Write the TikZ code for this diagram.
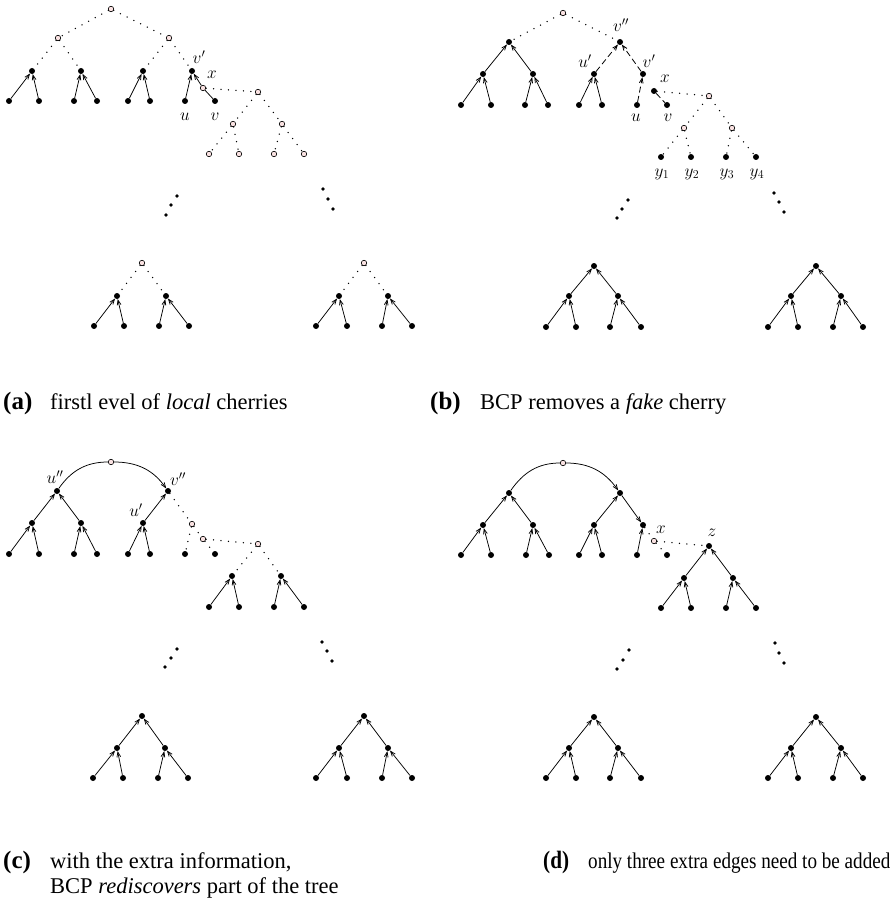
\documentclass[tikz,border=0pt]{standalone}
\usepackage{fontspec}
\usepackage{graphicx}
\setmainfont{Liberation Serif}
\usetikzlibrary{arrows.meta}
\definecolor{opencol}{RGB}{250,226,226}

% a parent with two leaves, each leaf pointing up to the parent
\newcommand\mycherry[6]{%
  \node[fdot] (#1) at (#2,#3) {};
  \node[fdot] (#1l) at (#4,#6) {};
  \node[fdot] (#1r) at (#5,#6) {};
  \draw[arr] (#1l) -- (#1);
  \draw[arr] (#1r) -- (#1);}
% three dots of a vertical ellipsis
\newcommand\mydots[7]{%
  \node[edot] (#1a) at (#2,#3) {};
  \node[edot] (#1b) at (#4,#5) {};
  \node[edot] (#1c) at (#6,#7) {};}

\begin{document}
\begin{tikzpicture}[x=1pt,y=-1pt,
  fdot/.style={circle,fill=black,inner sep=0pt,minimum size=6pt},
  odot/.style={circle,draw=black,fill=opencol,line width=0.6pt,inner sep=0pt,minimum size=5.5pt},
  edot/.style={circle,fill=black,inner sep=0pt,minimum size=3.6pt},
  arr/.style={line width=0.75pt,-{Straight Barb[length=5pt,width=3.8pt]}},
  lne/.style={line width=0.75pt},
  dotl/.style={line width=1.5pt,line cap=round,dash pattern=on 0pt off 7.5pt},
  dsh/.style={line width=0.8pt,dash pattern=on 6pt off 3.5pt},
  lbl/.style={inner sep=0pt,font=\fontsize{17.5}{17.5}\selectfont},
  captext/.style={anchor=base west,inner sep=0pt,font=\fontsize{22.5}{27}\selectfont},
  capmark/.style={anchor=base west,inner sep=0pt,font=\fontsize{25}{27}\selectfont\bfseries},
]
\useasboundingbox (0,0) rectangle (890,901);

% ---------------- (a) ----------------
\node[odot] (ar) at (111,9) {};
\node[odot] (a1) at (58,38) {};
\node[odot] (a2) at (169,38) {};
\mycherry{ac1}{32}{71}{9}{39}{101}
\mycherry{ac2}{81}{71}{74}{97}{101}
\mycherry{ac3}{143}{71}{128}{150}{101}
\node[fdot] (avp) at (192,71) {};
\node[fdot] (au) at (185,101) {};
\node[fdot] (av) at (215,101) {};
\node[odot] (ax) at (203,88) {};
\draw[arr] (au) -- (avp);
\draw[lne] (av) -- (ax);
\draw[arr] (ax) -- (avp);
\draw[dotl] (ar) -- (a1); \draw[dotl] (ar) -- (a2);
\draw[dotl] (a1) -- (ac1); \draw[dotl] (a1) -- (ac2);
\draw[dotl] (a2) -- (ac3); \draw[dotl] (a2) -- (avp);
\node[odot] (aw) at (258,92) {};
\node[odot] (aw1) at (233,124) {};
\node[odot] (aw2) at (282,124) {};
\node[odot] (ay1) at (209,154) {};
\node[odot] (ay2) at (239,154) {};
\node[odot] (ay3) at (274,154) {};
\node[odot] (ay4) at (304,154) {};
\draw[dotl] (ax) -- (aw);
\draw[dotl] (aw) -- (aw1); \draw[dotl] (aw) -- (aw2);
\draw[dotl] (aw1) -- (ay1); \draw[dotl] (aw1) -- (ay2);
\draw[dotl] (aw2) -- (ay3); \draw[dotl] (aw2) -- (ay4);
\node[lbl] (lavp) at (199,57) {$v'$};
\node[lbl] (lax) at (212,75) {$x$};
\node[lbl] (lau) at (185,117) {$u$};
\node[lbl] (lav) at (215,117) {$v$};
\mydots{ae1}{166}{215}{171}{205}{177}{196}
\mydots{ae2}{323}{189}{328}{199}{333}{209}
% lower trees
\node[odot] (ab1) at (142,263) {};
\mycherry{ab1c1}{117}{296}{94}{124}{326}
\mycherry{ab1c2}{166}{296}{159}{189}{326}
\draw[dotl] (ab1) -- (ab1c1); \draw[dotl] (ab1) -- (ab1c2);
\node[odot] (ab2) at (364,263) {};
\mycherry{ab2c1}{339}{296}{316}{347}{326}
\mycherry{ab2c2}{388}{296}{382}{412}{326}
\draw[dotl] (ab2) -- (ab2c1); \draw[dotl] (ab2) -- (ab2c2);
\node[capmark] (capa) at (3,409) {(a)};
\node[captext] (capat) at (50,409) {firstl evel of \textit{local} cherries};

% ---------------- (b) ----------------
\node[odot] (br) at (563,13) {};
\node[fdot] (bL) at (509,42) {};
\node[fdot] (bvpp) at (620,42) {};
\draw[dotl] (br) -- (bL); \draw[dotl] (br) -- (bvpp);
\mycherry{bc1}{483}{74}{461}{491}{105}
\mycherry{bc2}{533}{74}{525}{548}{105}
\draw[arr] (bc1) -- (bL); \draw[arr] (bc2) -- (bL);
\mycherry{bup}{594}{74}{579}{602}{105}
\node[fdot] (bvp) at (643,74) {};
\node[fdot] (bu) at (637,105) {};
\node[fdot] (bv) at (667,105) {};
\node[fdot] (bx) at (654,91) {};
\draw[dsh,-{Straight Barb[length=5pt,width=3.8pt]}] (bup) -- (bvpp);
\draw[dsh,-{Straight Barb[length=5pt,width=3.8pt]}] (bvp) -- (bvpp);
\draw[dsh,-{Straight Barb[length=5pt,width=3.8pt]}] (bu) -- (bvp);
\draw[dsh] (bx) -- (bv);
\node[odot] (bw) at (709,96) {};
\node[odot] (bw1) at (684,128) {};
\node[odot] (bw2) at (732,128) {};
\node[fdot] (by1) at (661,157) {};
\node[fdot] (by2) at (691,157) {};
\node[fdot] (by3) at (726,157) {};
\node[fdot] (by4) at (756,157) {};
\draw[dotl] (bx) -- (bw);
\draw[dotl] (bw) -- (bw1); \draw[dotl] (bw) -- (bw2);
\draw[dotl] (bw1) -- (by1); \draw[dotl] (bw1) -- (by2);
\draw[dotl] (bw2) -- (by3); \draw[dotl] (bw2) -- (by4);
\node[lbl] (lbvpp) at (621,25) {$v''$};
\node[lbl] (lbup) at (585,61) {$u'$};
\node[lbl] (lbvp) at (649,61) {$v'$};
\node[lbl] (lbx) at (665,79) {$x$};
\node[lbl] (lbu) at (636,118) {$u$};
\node[lbl] (lbv) at (668,118) {$v$};
\node[lbl] (lby1) at (662,174) {$y_1$};
\node[lbl] (lby2) at (692,174) {$y_2$};
\node[lbl] (lby3) at (727,174) {$y_3$};
\node[lbl] (lby4) at (757,174) {$y_4$};
\mydots{be1}{617}{218}{622}{209}{628}{200}
\mydots{be2}{774}{193}{779}{202}{784}{212}
% lower trees
\node[fdot] (bb1) at (594,266) {};
\mycherry{bb1c1}{569}{296}{546}{576}{327}
\mycherry{bb1c2}{618}{296}{610}{641}{327}
\draw[arr] (bb1c1) -- (bb1); \draw[arr] (bb1c2) -- (bb1);
\node[fdot] (bb2) at (816,266) {};
\mycherry{bb2c1}{791}{296}{768}{798}{327}
\mycherry{bb2c2}{841}{296}{833}{863}{327}
\draw[arr] (bb2c1) -- (bb2); \draw[arr] (bb2c2) -- (bb2);
\node[capmark] (capb) at (430,409) {(b)};
\node[captext] (capbt) at (480,409) {BCP removes a \textit{fake} cherry};

% ---------------- (c) ----------------
\node[odot] (cr) at (111,462) {};
\node[fdot] (cupp) at (57,491) {};
\node[fdot] (cvpp) at (168,491) {};
\draw[lne] (cupp) to[out=55,in=180] (cr);
\draw[arr] (cr) to[out=0,in=125] (cvpp);
\mycherry{cc1}{32}{523}{9}{39}{554}
\mycherry{cc2}{81}{523}{74}{97}{554}
\draw[arr] (cc1) -- (cupp); \draw[arr] (cc2) -- (cupp);
\mycherry{cup}{143}{523}{128}{150}{554}
\draw[arr] (cup) -- (cvpp);
\node[odot] (co1) at (192,524) {};
\node[odot] (co2) at (203,539) {};
\node[odot] (co3) at (258,544) {};
\node[fdot] (cl1) at (185,554) {};
\node[fdot] (cl2) at (215,554) {};
\draw[dotl] (cvpp) -- (co1);
\draw[dotl] (co1) -- (cl1); \draw[dotl] (co1) -- (co2);
\draw[dotl] (co2) -- (cl2); \draw[dotl] (co2) -- (co3);
\mycherry{cd1}{232}{576}{209}{239}{607}
\mycherry{cd2}{281}{576}{274}{304}{607}
\draw[dotl] (co3) -- (cd1); \draw[dotl] (co3) -- (cd2);
\node[lbl] (lcupp) at (55,477) {$u''$};
\node[lbl] (lcvpp) at (178,479) {$v''$};
\node[lbl] (lcup) at (136,510) {$u'$};
\mydots{ce1}{165}{667}{171}{658}{177}{649}
\mydots{ce2}{322}{642}{327}{651}{332}{661}
% lower trees
\node[fdot] (cb1) at (142,716) {};
\mycherry{cb1c1}{117}{748}{93}{123}{778}
\mycherry{cb1c2}{165}{748}{158}{188}{778}
\draw[arr] (cb1c1) -- (cb1); \draw[arr] (cb1c2) -- (cb1);
\node[fdot] (cb2) at (364,716) {};
\mycherry{cb2c1}{339}{748}{316}{347}{778}
\mycherry{cb2c2}{388}{748}{382}{412}{778}
\draw[arr] (cb2c1) -- (cb2); \draw[arr] (cb2c2) -- (cb2);
\node[capmark] (capc) at (3,868) {(c)};
\node[captext] (capct1) at (50,868) {with the extra information,};
\node[captext] (capct2) at (50,893) {BCP \textit{rediscovers} part of the tree};

% ---------------- (d) ----------------
\node[odot] (dr) at (563,463) {};
\node[fdot] (dL) at (509,493) {};
\node[fdot] (dR) at (620,493) {};
\draw[lne] (dL) to[out=55,in=180] (dr);
\draw[arr] (dr) to[out=0,in=125] (dR);
\mycherry{dc1}{483}{525}{461}{491}{555}
\mycherry{dc2}{533}{525}{526}{549}{555}
\draw[arr] (dc1) -- (dL); \draw[arr] (dc2) -- (dL);
\mycherry{dup}{594}{525}{579}{602}{555}
\draw[arr] (dup) -- (dR);
\node[fdot] (dvp) at (643,525) {};
\node[fdot] (du) at (637,555) {};
\node[fdot] (dv) at (667,555) {};
\node[odot] (dx) at (654,541) {};
\draw[arr] (dR) -- (dvp);
\draw[arr] (du) -- (dvp);
\draw[dotl] (dvp) -- (dx);
\draw[dotl] (dx) -- (dv);
\node[fdot] (dz) at (709,546) {};
\draw[dotl] (dx) -- (dz);
\mycherry{dz1}{684}{578}{661}{691}{608}
\mycherry{dz2}{733}{578}{726}{756}{608}
\draw[arr] (dz1) -- (dz); \draw[arr] (dz2) -- (dz);
\node[lbl] (ldx) at (661,530) {$x$};
\node[lbl] (ldz) at (712,533) {$z$};
\mydots{de1}{617}{669}{623}{660}{629}{650}
\mydots{de2}{775}{643}{779}{653}{784}{663}
% lower trees
\node[fdot] (db1) at (594,717) {};
\mycherry{db1c1}{569}{748}{546}{576}{778}
\mycherry{db1c2}{618}{748}{610}{641}{778}
\draw[arr] (db1c1) -- (db1); \draw[arr] (db1c2) -- (db1);
\node[fdot] (db2) at (816,717) {};
\mycherry{db2c1}{791}{748}{768}{798}{778}
\mycherry{db2c2}{841}{748}{833}{863}{778}
\draw[arr] (db2c1) -- (db2); \draw[arr] (db2c2) -- (db2);
\node[capmark] (capd) at (543,868) {\scalebox{0.85}[1]{(d)}};
\node[captext] (capdt) at (588,868) {\scalebox{0.85}[1]{only three extra edges need to be added}};
\end{tikzpicture}
\end{document}
